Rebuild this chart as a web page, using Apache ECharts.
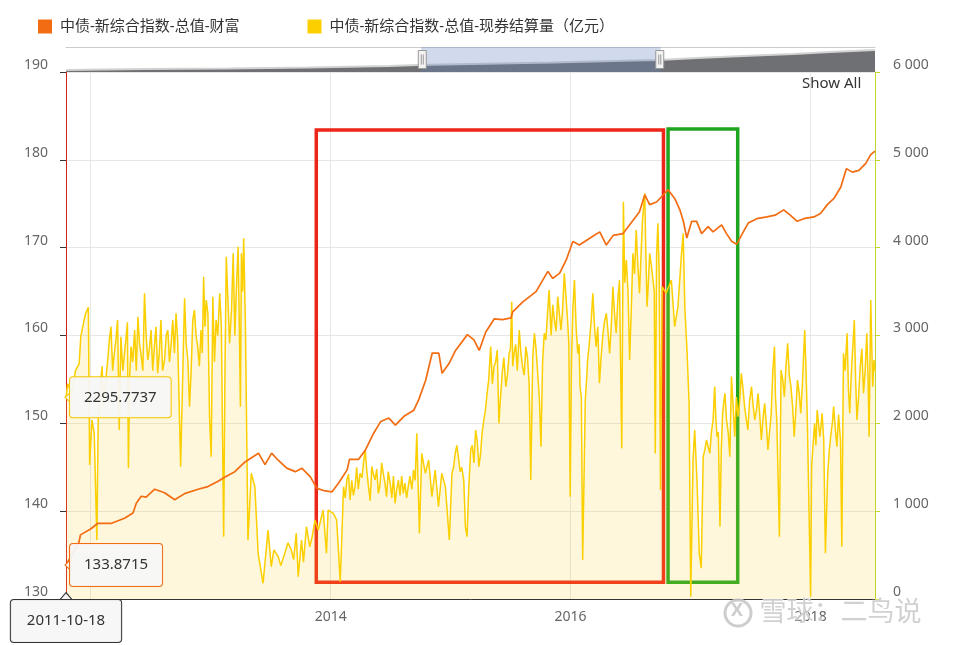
<!DOCTYPE html>
<html><head><meta charset="utf-8">
<script src="https://cdn.jsdelivr.net/npm/echarts@6/dist/echarts.min.js"></script>
<style>html,body{margin:0;padding:0;background:#fff}#c{width:954px;height:645px}</style>
</head><body><div id="c"></div>
<script>
// ---- data ----
const seriesNames = ['中债-新综合指数-总值-财富', '中债-新综合指数-总值-现券结算量（亿元）'];

const idxDates = ['2011-10-18','2011-11-08','2011-11-26','2011-12-01','2012-01-02','2012-01-22','2012-03-03','2012-04-13','2012-05-09','2012-05-19','2012-06-03','2012-06-18','2012-07-14','2012-08-13','2012-09-13','2012-10-13','2012-11-23','2012-12-23','2013-01-23','2013-02-13','2013-03-15','2013-04-15','2013-05-26','2013-06-15','2013-07-05','2013-07-25','2013-08-20','2013-09-15','2013-10-05','2013-10-31','2013-11-20','2013-12-15','2014-01-05','2014-01-25','2014-02-20','2014-02-27','2014-03-27','2014-04-17','2014-05-12','2014-06-02','2014-06-27','2014-07-17','2014-08-12','2014-09-11','2014-09-26','2014-10-17','2014-11-06','2014-11-26','2014-12-06','2014-12-27','2015-01-16','2015-02-21','2015-03-13','2015-03-29','2015-04-18','2015-05-14','2015-06-08','2015-07-04','2015-07-09','2015-08-08','2015-09-18','2015-10-24','2015-11-08','2015-11-29','2015-12-19','2016-01-08','2016-01-28','2016-03-09','2016-03-30','2016-04-19','2016-05-10','2016-06-09','2016-07-09','2016-07-29','2016-08-14','2016-08-29','2016-09-19','2016-10-09','2016-10-24','2016-11-13','2016-11-29','2016-12-09','2016-12-20','2017-01-04','2017-01-19','2017-02-03','2017-02-23','2017-03-10','2017-04-05','2017-04-20','2017-05-06','2017-05-21','2017-06-10','2017-06-25','2017-07-21','2017-08-21','2017-09-15','2017-10-11','2017-10-31','2017-11-21','2017-12-11','2018-01-11','2018-01-31','2018-02-21','2018-03-13','2018-04-03','2018-04-20','2018-05-08','2018-05-28','2018-06-18','2018-07-03','2018-07-16'];
const idxValues = [133.8715,135.2,136.4,137.3,138.0,138.6,138.6,139.2,139.8,140.9,141.7,141.6,142.5,142.1,141.3,142.0,142.5,142.8,143.4,143.9,144.5,145.6,146.6,145.3,146.6,145.8,144.9,144.5,144.9,143.9,142.6,142.3,142.2,143.2,144.7,145.9,145.9,147.0,148.9,150.2,150.6,149.8,150.8,151.5,152.7,154.9,158.0,158.0,155.7,156.8,158.3,160.1,159.5,158.3,160.4,161.9,161.8,162.0,162.7,163.8,165.0,167.3,166.5,167.1,168.6,170.7,170.3,171.3,171.8,170.3,171.4,171.6,173.1,174.1,176.0,174.9,175.2,176.0,176.6,175.6,174.3,173.1,171.1,173.0,173.0,171.6,172.4,171.8,172.6,171.6,170.7,170.4,171.8,172.8,173.3,173.5,173.7,174.3,173.7,173.0,173.3,173.5,173.9,174.9,175.6,176.9,179.0,178.6,178.8,179.6,180.6,181.0];

// settlement volume: peaks and troughs
const volDates = ['2011-10-18','2011-10-23','2011-11-04','2011-11-16','2011-11-27','2011-12-02','2011-12-12','2011-12-17','2011-12-25','2011-12-29','2012-01-05','2012-01-12','2012-01-20','2012-01-24','2012-02-01','2012-02-09','2012-02-22','2012-03-03','2012-03-13','2012-03-23','2012-03-28','2012-04-02','2012-04-13','2012-04-18','2012-04-25','2012-05-03','2012-05-14','2012-05-24','2012-06-02','2012-06-13','2012-06-23','2012-07-03','2012-07-13','2012-07-23','2012-08-02','2012-08-13','2012-08-23','2012-09-07','2012-09-17','2012-10-01','2012-10-13','2012-10-23','2012-10-28','2012-11-07','2012-11-12','2012-11-22','2012-12-02','2012-12-10','2012-12-18','2012-12-28','2013-01-02','2013-01-07','2013-01-17','2013-01-28','2013-02-02','2013-02-09','2013-02-17','2013-02-27','2013-03-10','2013-03-20','2013-03-25','2013-04-01','2013-04-04','2013-04-11','2013-04-16','2013-04-24','2013-05-04','2013-05-15','2013-05-25','2013-06-09','2013-06-24','2013-07-04','2013-07-12','2013-07-25','2013-08-02','2013-08-14','2013-08-24','2013-09-03','2013-09-10','2013-09-18','2013-09-24','2013-10-04','2013-10-10','2013-10-19','2013-10-29','2013-11-05','2013-11-14','2013-11-24','2013-12-09','2013-12-19','2013-12-24','2014-01-09','2014-01-19','2014-01-30','2014-02-09','2014-02-19','2014-03-01','2014-03-16','2014-03-31','2014-04-16','2014-04-26','2014-05-06','2014-05-16','2014-05-26','2014-06-10','2014-06-20','2014-07-01','2014-07-16','2014-07-26','2014-08-10','2014-08-25','2014-09-10','2014-09-20','2014-09-28','2014-10-05','2014-10-16','2014-10-26','2014-11-05','2014-11-15','2014-11-25','2014-12-05','2014-12-16','2014-12-28','2015-01-05','2015-01-15','2015-01-25','2015-02-04','2015-02-15','2015-02-20','2015-03-03','2015-03-18','2015-03-28','2015-04-12','2015-04-22','2015-05-03','2015-05-13','2015-05-23','2015-05-28','2015-06-07','2015-06-18','2015-06-28','2015-07-06','2015-07-13','2015-07-29','2015-08-08','2015-08-18','2015-08-28','2015-09-02','2015-09-13','2015-09-23','2015-10-03','2015-10-13','2015-10-23','2015-10-28','2015-11-13','2015-11-23','2015-12-03','2015-12-13','2015-12-23','2015-12-31','2016-01-08','2016-01-13','2016-01-23','2016-01-30','2016-02-07','2016-02-15','2016-02-22','2016-03-04','2016-03-09','2016-03-19','2016-03-29','2016-04-08','2016-04-19','2016-04-29','2016-05-09','2016-05-19','2016-05-29','2016-06-05','2016-06-10','2016-06-19','2016-06-29','2016-07-09','2016-07-19','2016-07-29','2016-08-07','2016-08-14','2016-08-21','2016-08-29','2016-09-08','2016-09-15','2016-09-23','2016-10-01','2016-10-06','2016-10-18','2016-11-03','2016-11-13','2016-11-23','2016-12-04','2016-12-09','2016-12-14','2016-12-21','2016-12-27','2017-01-01','2017-01-08','2017-01-13','2017-01-20','2017-01-27','2017-02-02','2017-02-08','2017-02-18','2017-02-28','2017-03-10','2017-03-15','2017-03-22','2017-03-31','2017-04-08','2017-04-15','2017-04-20','2017-04-30','2017-05-05','2017-05-15','2017-05-25','2017-06-04','2017-06-14','2017-06-24','2017-07-05','2017-07-15','2017-07-25','2017-08-04','2017-08-14','2017-08-24','2017-09-03','2017-09-13','2017-09-20','2017-09-28','2017-10-03','2017-10-13','2017-10-23','2017-11-02','2017-11-12','2017-11-22','2017-12-02','2017-12-14','2017-12-22','2018-01-01','2018-01-08','2018-01-21','2018-01-29','2018-02-05','2018-02-15','2018-02-22','2018-03-04','2018-03-12','2018-03-22','2018-04-06','2018-04-11','2018-04-22','2018-04-30','2018-05-07','2018-05-14','2018-05-22','2018-06-01','2018-06-11','2018-06-21','2018-06-28','2018-07-03','2018-07-09','2018-07-13','2018-07-16'];
const volValues = [2295.7737,2450,2350,2600,2680,2986,3176,3253,3321,1526,2038,1886,672,2038,2500,2200,2721,3100,2797,3176,1924,2986,2797,2986,1488,2873,3062,3214,2797,3480,2721,3062,2873,2570,3176,2721,3062,3176,3253,1507,3423,2721,2190,3176,3290,2873,3062,3669,3404,2076,1620,3442,3176,3480,3100,709,3897,2911,3935,3556,4011,2190,3935,4106,3176,672,1431,1279,520,179,786,368,560,482,380,520,640,558,450,748,254,672,420,823,595,700,899,786,1013,520,1013,976,899,197,1279,1355,1127,1279,1431,1696,1279,1507,1355,1203,1431,1165,1317,1089,1355,1203,1279,1469,1886,748,1658,1431,1582,1165,1469,1051,1431,1279,672,1431,1658,1600,1500,823,709,1696,1924,1507,2038,2342,2873,2645,2835,2000,2570,2418,2797,3385,2797,3062,2645,2873,2456,1355,3025,2570,1734,3025,3253,3518,3176,3442,3062,3708,3176,1165,3290,3632,2797,2418,444,2266,2721,3176,3480,2873,2456,2986,3253,2797,3556,3025,3632,1715,4523,3859,2721,3935,4201,3480,4315,4618,3328,3935,3632,1658,4277,1241,3556,3480,3632,3100,3328,3935,4163,3328,2797,2228,26,1582,1924,1355,520,350,1620,1810,1658,2038,2418,1848,823,2114,2342,2038,1620,2532,1848,2076,2570,2190,1924,2418,2038,2342,1810,2228,1696,2114,2873,2038,709,2607,2304,2911,2418,1848,2493,2114,3062,2038,26,1734,2152,1848,2114,520,1431,1886,2190,1734,595,2797,3025,2114,2721,3176,2038,2645,2342,3025,1848,3404,2418,2721,2600];

// settlement volume: in-between wiggles estimated from the dense band of the picture
const volDates2 = ['2012-02-05','2012-02-15','2012-02-27','2012-03-08','2012-03-18','2012-04-08','2012-04-22','2012-04-29','2012-05-08','2012-05-19','2012-05-29','2012-06-08','2012-06-18','2012-06-28','2012-07-08','2012-07-18','2012-07-28','2012-08-07','2012-08-18','2012-08-28','2012-09-02','2012-09-12','2012-09-22','2012-10-08','2012-10-18','2012-11-02','2012-11-17','2012-11-27','2012-12-06','2012-12-14','2012-12-23','2013-01-12','2013-01-22','2013-02-13','2013-02-22','2013-03-05','2013-03-15','2013-03-28','2013-04-08',
  '2014-02-14','2014-02-24','2014-03-06','2014-03-11','2014-03-21','2014-03-26','2014-04-06','2014-04-11','2014-04-21','2014-05-01','2014-05-11','2014-05-21','2014-05-31','2014-06-05','2014-06-15','2014-06-25','2014-07-06','2014-07-11','2014-07-21','2014-07-31','2014-08-05','2014-08-15','2014-08-20','2014-08-30','2014-09-05','2014-09-15',
  '2015-01-10','2015-01-20','2015-01-30','2015-02-10','2015-02-25','2015-03-08','2015-03-13','2015-03-23','2015-04-02','2015-04-07','2015-04-17','2015-04-27','2015-05-08','2015-05-18','2015-06-02','2015-06-12','2015-06-23','2015-07-02','2015-07-09','2015-07-18','2015-07-23','2015-08-03','2015-08-13','2015-08-23','2015-09-08','2015-09-18','2015-09-28','2015-10-08','2015-10-18','2015-11-03','2015-11-08','2015-11-18','2015-11-28','2015-12-08','2015-12-18','2015-12-27','2016-01-04','2016-01-18','2016-01-27','2016-02-03','2016-02-19','2016-02-27','2016-03-14','2016-03-24','2016-04-03','2016-04-13','2016-04-24','2016-05-04','2016-05-14','2016-05-24','2016-06-14','2016-06-24','2016-07-04','2016-07-14','2016-07-24','2016-08-02','2016-08-17','2016-08-25','2016-09-03','2016-09-12','2016-09-19','2016-09-27',
  '2017-02-13','2017-02-23','2017-03-05','2017-03-18','2017-03-26','2017-04-04','2017-04-12','2017-04-25','2017-05-10','2017-05-20','2017-05-30','2017-06-09','2017-06-19','2017-06-29','2017-07-10','2017-07-20','2017-07-30','2017-08-09','2017-08-19','2017-08-29','2017-09-08','2017-09-16','2017-10-08','2017-10-18','2017-10-28','2017-11-07','2017-11-17','2017-11-27','2017-12-07','2017-12-18','2018-01-04','2018-01-13','2018-01-17','2018-01-25','2018-02-01','2018-02-10','2018-02-27','2018-03-08','2018-03-17','2018-03-27','2018-04-02','2018-04-16','2018-04-26','2018-05-03','2018-05-10','2018-05-18','2018-05-27','2018-06-06','2018-06-16','2018-06-25'];
const volValues2 = [2650,2450,2950,2600,2950,2600,3150,2550,2700,2600,2900,2600,3000,2850,2600,3100,2800,2600,3000,2700,2900,2800,2950,2650,2900,2600,3000,2650,2800,3100,3250,2700,3000,2600,3400,3300,3000,3300,3500,
  1150,1420,1350,1180,1500,1250,1380,1560,1450,1120,1420,1480,1300,1550,1320,1450,1150,1400,1250,1180,1400,1320,1150,1400,1250,1350,
  1500,1750,1450,1350,1250,1750,1550,1800,1650,1900,2150,2500,2450,2700,2300,2750,2550,2850,2650,2900,2600,2800,2550,2750,2750,2850,2300,2700,2950,3000,3350,3050,3250,3300,3450,2900,2700,3100,2900,2300,2500,2900,3100,3100,2750,3150,3050,3100,3250,3400,3600,3500,3300,3700,3800,3850,4000,3600,3800,3500,3900,3700,
  1700,1800,1900,2100,1900,1700,2250,1900,2200,2300,2250,2400,2050,2250,2200,2150,2100,2050,2000,1900,2600,2300,2500,2650,2550,2200,2150,2350,2450,2600,1500,2000,1750,2000,1950,1800,1700,2000,1950,2100,1800,2600,2400,2400,2900,2500,2300,2850,2600,2500];

// navigator (long history overview)
const navDates = ['2002-01-04','2003-08-10','2005-04-23','2006-12-19','2008-08-14','2009-03-09','2010-04-12','2011-12-08','2013-08-04','2014-02-10','2014-11-25','2016-02-01','2016-11-12','2017-08-19','2018-07-16'];
const navValues = [103,107,109,113,119,123,127,133,141,143,151,161,167,175,183];

const yearTicks = ['2012-01-01','2014-01-01','2016-01-01','2018-01-01'];
const yearLabels = ['2014-01-01','2016-01-01','2018-01-01'];

// annotation boxes (drawn in the reference)
const redBox = [['2013-11-18',183.4],['2016-10-10',131.9]];
const greenBox = [['2016-10-24',183.5],['2017-05-24',131.9]];

// ---- chart ----
const FF = "'Noto Sans','Noto Sans CJK SC',sans-serif";
const chart = echarts.init(document.getElementById('c'), null, {renderer:'canvas'});
const T = s => { const p = s.split('-').map(Number); return new Date(p[0], p[1]-1, p[2]).getTime(); };
const zipT = (a,b) => a.map((d,i)=>[T(d),b[i]]);
const volData = zipT(volDates, volValues).concat(zipT(volDates2, volValues2)).sort((p,q)=>p[0]-q[0]);
const fmtR = v => v >= 1000 ? Math.floor(v/1000) + ' ' + String(v%1000).padStart(3,'0') : String(v);
const ORANGE = '#f26d12', YELLOW = '#fbcf00';
const CLEAR = 'rgba(0,0,0,0)';
const BOXBG = 'rgba(247,247,247,0.94)';

const option = {
  animation:false,
  textStyle:{fontFamily:FF},
  legend:{
    data:seriesNames, left:33, top:14, itemWidth:14, itemHeight:14, itemGap:68, icon:'rect',
    textStyle:{fontSize:15, color:'#333', fontFamily:FF, padding:[0,0,0,3]}
  },
  grid:[
    {left:66, right:79, top:72, bottom:46},
    {left:66, right:79, top:47, height:25},
    {left:66, right:79, top:47, height:25}
  ],
  xAxis:[
    {type:'value', gridIndex:0, min:T('2011-10-18'), max:T('2018-07-16'),
      axisLine:{lineStyle:{color:'#333', width:1}},
      axisTick:{show:false, customValues:yearTicks.map(T)},
      axisLabel:{customValues:yearLabels.map(T), formatter:v=>String(new Date(v).getFullYear()), color:'#666', fontSize:14, margin:11, fontFamily:FF},
      splitLine:{show:true, lineStyle:{color:'#e6e6e6'}}
    },
    {type:'time', gridIndex:1, min:'2002-01-01', max:'2018-07-16', position:'top',
      axisLine:{show:true, lineStyle:{color:'#cccccc'}}, axisTick:{show:false}, axisLabel:{show:false}, splitLine:{show:false}},
    {type:'value', gridIndex:2, min:0, max:100, show:false}
  ],
  yAxis:[
    {type:'value', gridIndex:0, min:130, max:190, interval:10, position:'left',
      axisLine:{show:true, lineStyle:{color:'#d21f1f', width:1}},
      axisTick:{show:true, length:6, lineStyle:{color:'#333'}},
      axisLabel:{color:'#666', fontSize:14, margin:18, verticalAlign:'bottom', fontFamily:FF},
      splitLine:{show:true, lineStyle:{color:'#e6e6e6'}}
    },
    {type:'value', gridIndex:0, min:0, max:6000, interval:1000, position:'right',
      axisLine:{show:true, lineStyle:{color:'#c3d62c', width:1}},
      axisTick:{show:true, length:5, lineStyle:{color:'#c3d62c'}},
      axisLabel:{color:'#666', fontSize:14, margin:18, verticalAlign:'bottom', formatter:fmtR, fontFamily:FF},
      splitLine:{show:false}
    },
    {type:'value', gridIndex:1, min:95, max:195, show:false},
    {type:'value', gridIndex:2, min:0, max:1, show:false}
  ],
  dataZoom:[{
    type:'slider', xAxisIndex:2, filterMode:'none', start:43.8, end:73.4,
    left:66, right:79, top:47, height:25,
    showDataShadow:false, showDetail:false, brushSelect:false, moveHandleSize:0,
    backgroundColor:CLEAR, borderColor:CLEAR,
    fillerColor:'rgba(102,133,194,0.3)',
    handleIcon:'path://M0,0 L8,0 L8,18 L0,18 Z M3,4 L3,14 M5,4 L5,14',
    handleSize:'72%',
    handleStyle:{color:'#f2f2f2', borderColor:'#999', borderWidth:1},
    emphasis:{handleStyle:{color:'#f2f2f2', borderColor:'#999'}}
  }],
  series:[
    {name:seriesNames[0], type:'line', xAxisIndex:0, yAxisIndex:0, data:zipT(idxDates, idxValues),
      showSymbol:false, symbol:'none', color:ORANGE, lineStyle:{color:ORANGE, width:1.7}, z:3},
    {name:seriesNames[1], type:'line', xAxisIndex:0, yAxisIndex:1, data:volData,
      showSymbol:false, symbol:'none', color:YELLOW, lineStyle:{color:YELLOW, width:1.5},
      areaStyle:{color:'rgba(250,210,40,0.24)'}, z:2},
    {name:'nav', type:'line', xAxisIndex:1, yAxisIndex:2, data:navDates.map((d,i)=>[d,navValues[i]]),
      showSymbol:false, symbol:'none', silent:true, lineStyle:{color:'#d2d2d2', width:2},
      areaStyle:{color:'#6f7073', opacity:1}},
    {name:'dummy', type:'line', xAxisIndex:2, yAxisIndex:3, data:[[0,0],[100,0]],
      showSymbol:false, symbol:'none', silent:true, lineStyle:{opacity:0}},
    {name:'annotL', type:'line', xAxisIndex:0, yAxisIndex:0, z:10, silent:true,
      data:[[T(idxDates[0]), idxValues[0]]], showSymbol:false, symbol:'none', lineStyle:{opacity:0},
      markArea:{silent:true, data:[
        [{xAxis:T(redBox[0][0]), yAxis:redBox[0][1], itemStyle:{color:CLEAR, borderColor:'#ee2519', borderWidth:3.5, borderRadius:3}},
         {xAxis:T(redBox[1][0]), yAxis:redBox[1][1]}],
        [{xAxis:T(greenBox[0][0]), yAxis:greenBox[0][1], itemStyle:{color:CLEAR, borderColor:'#1fa51f', borderWidth:3.5, borderRadius:3}},
         {xAxis:T(greenBox[1][0]), yAxis:greenBox[1][1]}]
      ]},
      markPoint:{silent:true, symbol:'circle', symbolSize:2, itemStyle:{color:CLEAR}, data:[
        {coord:[T(idxDates[0]), idxValues[0]], symbol:'triangle', symbolSize:[11,6], symbolRotate:90, symbolOffset:[2,0],
          itemStyle:{color:BOXBG, borderColor:ORANGE, borderWidth:1}, label:{show:false}},
        {coord:[T(idxDates[0]), 130], symbol:'triangle', symbolSize:[12,7], symbolOffset:[0,-3],
          itemStyle:{color:BOXBG, borderColor:'#333', borderWidth:1}, label:{show:false}},
        {coord:[T(idxDates[0]), idxValues[0]], label:{show:true, position:'right', distance:3,
          formatter:'133.8715', color:'#333', fontSize:15, lineHeight:18, fontFamily:FF,
          backgroundColor:BOXBG, borderColor:ORANGE, borderWidth:1, borderRadius:3, padding:[12,14]}},
        {coord:[T(idxDates[0]), 130], label:{show:true, position:'bottom', distance:0,
          formatter:'2011-10-18', color:'#333', fontSize:15, lineHeight:18, fontFamily:FF,
          backgroundColor:BOXBG, borderColor:'#333', borderWidth:1, borderRadius:3, padding:[12,16]}}
      ]}
    },
    {name:'annotR', type:'line', xAxisIndex:0, yAxisIndex:1, z:10, silent:true,
      data:[[T(volDates[0]), volValues[0]]], showSymbol:false, symbol:'none', lineStyle:{opacity:0},
      markPoint:{silent:true, symbol:'circle', symbolSize:2, itemStyle:{color:CLEAR}, data:[
        {coord:[T(volDates[0]), volValues[0]], symbol:'triangle', symbolSize:[11,6], symbolRotate:90, symbolOffset:[2,0],
          itemStyle:{color:BOXBG, borderColor:'#f5c800', borderWidth:1}, label:{show:false}},
        {coord:[T(volDates[0]), volValues[0]], label:{show:true, position:'right', distance:3,
          formatter:'2295.7737', color:'#333', fontSize:15, lineHeight:18, fontFamily:FF,
          backgroundColor:BOXBG, borderColor:'#f5c800', borderWidth:1, borderRadius:3, padding:[11,14]}}
      ]}
    }
  ],
  graphic:[
    {type:'text', left:802, top:76, z:20, style:{text:'Show All', fontSize:15, fill:'#333', fontFamily:FF}},
    {type:'circle', shape:{cx:738, cy:613, r:13}, z:30, style:{fill:'none', stroke:'rgba(200,200,200,0.9)', lineWidth:3}},
    {type:'text', left:731, top:602, z:30, style:{text:'X', fontSize:18, fontWeight:'bold', fill:'rgba(200,200,200,0.9)', fontFamily:FF}},
    {type:'text', left:759, top:597, z:30, style:{text:'雪球：二鸟说', fontSize:27, fill:'rgba(205,205,205,0.92)', fontFamily:"'Noto Sans CJK SC',sans-serif", stroke:'rgba(255,255,255,0.6)', lineWidth:1}}
  ]
};
chart.setOption(option);
</script>
</body></html>
